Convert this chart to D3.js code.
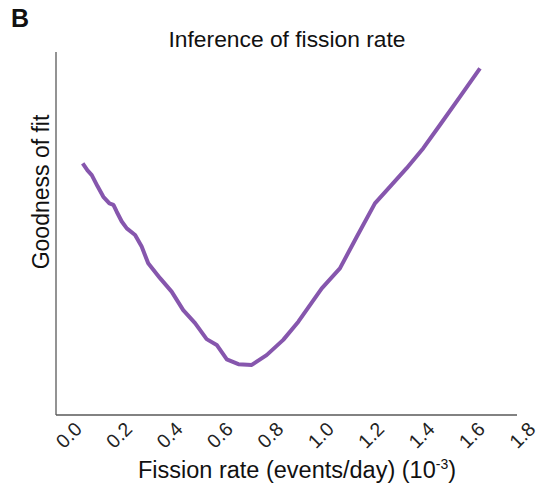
<!DOCTYPE html>
<html>
<head>
<meta charset="utf-8">
<script src="https://cdn.jsdelivr.net/npm/d3@7"></script>
<style>
  html, body { margin: 0; padding: 0; background: #fff; }
  svg { display: block; font-family: "Liberation Sans", Arial, sans-serif; }
</style>
</head>
<body>
<svg id="chart" width="540" height="495"></svg>
<script>
// Fission rate (10^-3 events/day)
const rates = [0.056, 0.075, 0.092, 0.115, 0.138, 0.162, 0.178, 0.191, 0.211, 0.231, 0.264, 0.290, 0.316, 0.363, 0.409, 0.455, 0.502, 0.548, 0.588, 0.628, 0.674, 0.727, 0.786, 0.852, 0.912, 1.005, 1.077, 1.144, 1.216, 1.276, 1.342, 1.408, 1.474, 1.554, 1.633];
// Goodness of fit (arbitrary units)
const fit = [0.693, 0.674, 0.661, 0.630, 0.601, 0.583, 0.579, 0.560, 0.533, 0.514, 0.496, 0.464, 0.418, 0.377, 0.340, 0.289, 0.253, 0.209, 0.193, 0.153, 0.140, 0.138, 0.165, 0.207, 0.257, 0.349, 0.404, 0.491, 0.583, 0.629, 0.680, 0.735, 0.799, 0.877, 0.955];
const xTicks = [0.0, 0.2, 0.4, 0.6, 0.8, 1.0, 1.2, 1.4, 1.6, 1.8];

(function () {
const svg = d3.select("#chart");
const mL = 56, mR = 517, mT = 52, mB = 415;

const x = d3.scaleLinear().domain([-0.05, 1.78]).range([mL, mR]);
const y = d3.scaleLinear().domain([0, 1]).range([mB, mT]);

// Spines
svg.append("line").attr("x1", mL).attr("x2", mL).attr("y1", mT).attr("y2", mB)
  .attr("stroke", "#595959").attr("stroke-width", 1.3);
svg.append("line").attr("x1", mL).attr("x2", mR).attr("y1", mB).attr("y2", mB)
  .attr("stroke", "#595959").attr("stroke-width", 1.3);

// Tick labels (rotated, no tick marks)
svg.append("g").selectAll("g").data(xTicks).join("g")
  .attr("transform", d => `translate(${x(d)},435)`)
  .append("text")
  .attr("transform", "rotate(-45)")
  .attr("text-anchor", "middle")
  .attr("dominant-baseline", "central")
  .attr("font-size", 19.5)
  .attr("fill", "#222")
  .text(d => d.toFixed(1));

// Line
const line = d3.line().x((d, i) => x(rates[i])).y(d => y(d));
svg.append("path").datum(fit)
  .attr("d", line)
  .attr("fill", "none")
  .attr("stroke", "#8656ad")
  .attr("stroke-width", 4)
  .attr("stroke-linejoin", "round");

// Title
svg.append("text").attr("x", 287).attr("y", 47).attr("text-anchor", "middle")
  .attr("font-size", 22.8).attr("fill", "#111").text("Inference of fission rate");

// Panel letter
svg.append("text").attr("x", 11).attr("y", 27)
  .attr("font-size", 25).attr("font-weight", "bold").attr("fill", "#111").text("B");

// Y label
svg.append("text").attr("transform", "translate(49,192) rotate(-90)")
  .attr("text-anchor", "middle").attr("font-size", 23).attr("fill", "#111")
  .text("Goodness of fit");

// X label
const xl = svg.append("text").attr("x", 297).attr("y", 478).attr("text-anchor", "middle")
  .attr("font-size", 23.5).attr("fill", "#111");
xl.append("tspan").text("Fission rate (events/day) (10");
xl.append("tspan").attr("font-size", 14).attr("dy", -9).text("-3");
xl.append("tspan").attr("dy", 9).text(")");
})();
</script>
</body>
</html>
